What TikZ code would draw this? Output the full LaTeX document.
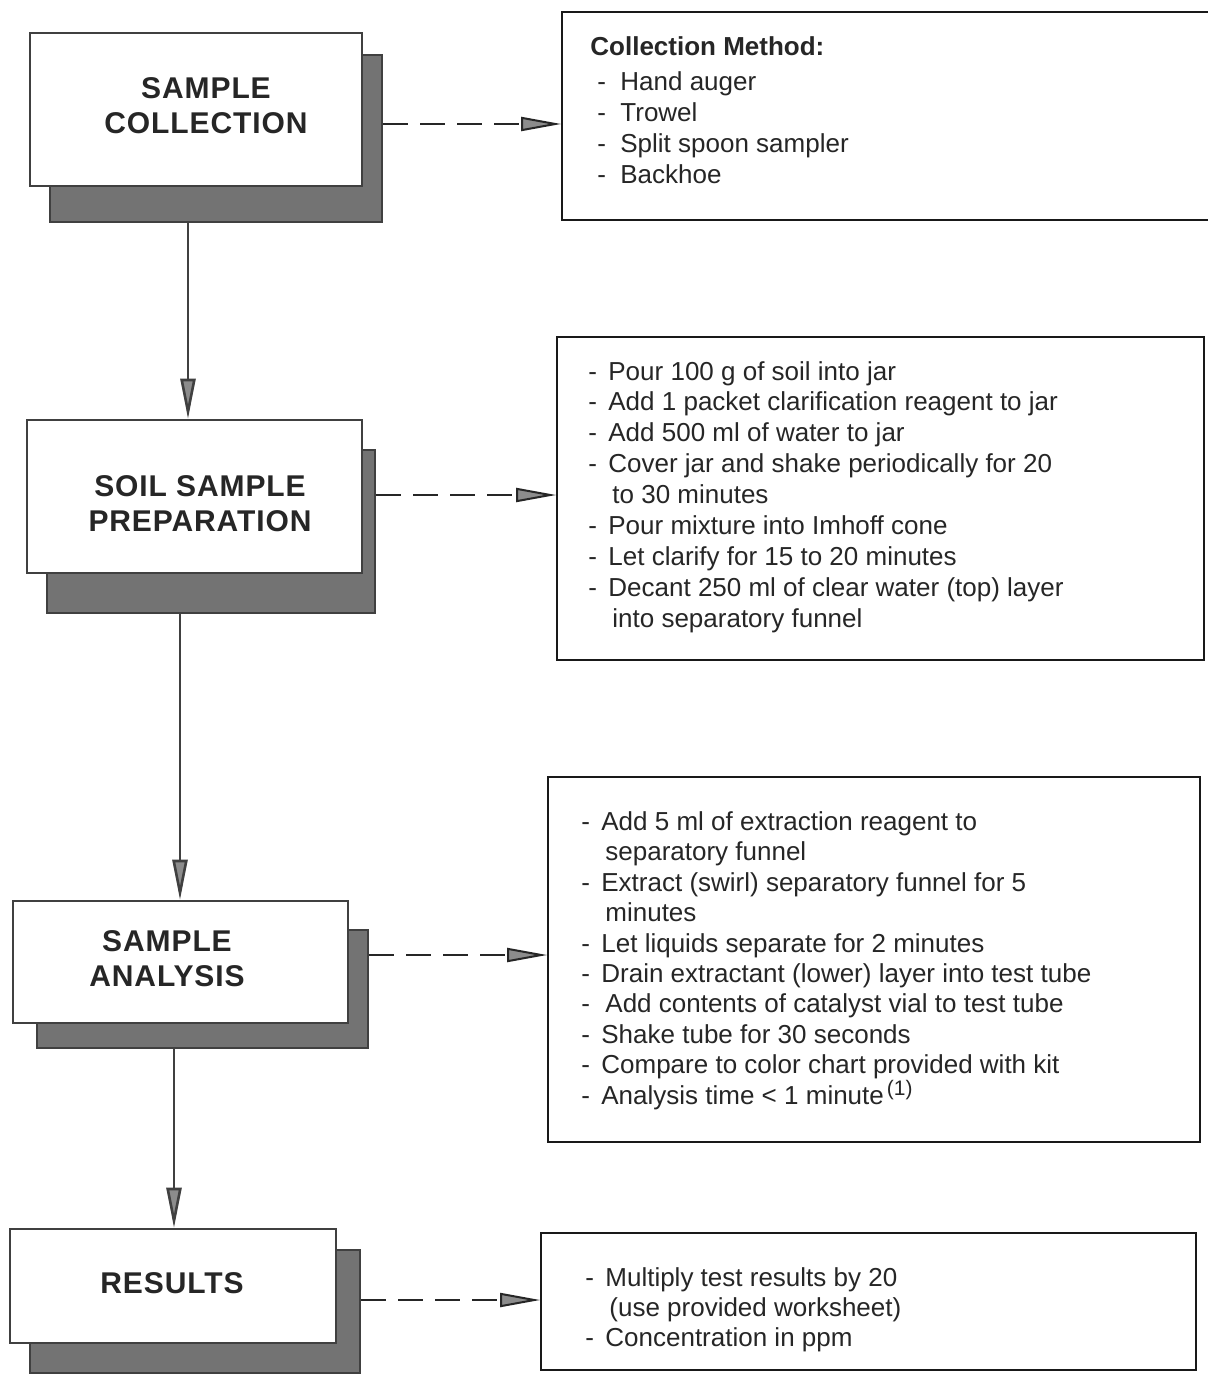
\documentclass[tikz,border=0pt]{standalone}
\usepackage{fontspec}
\setmainfont{Liberation Sans}
\usetikzlibrary{arrows.meta,fit}
\newcommand\itm{\makebox[10pt][l]{-}}
\newcommand\cnt{\hspace*{12pt}}
\begin{document}
\begin{tikzpicture}[x=0.5pt,y=-0.5pt,
  shadowbox/.style={draw=black!75, line width=1.3pt, fill=black!55, inner sep=0pt},
  mainbox/.style={draw=black!75, line width=1.3pt, fill=white, inner sep=0pt},
  infobox/.style={draw=black!90, line width=0.9pt, inner sep=0pt},
  title/.style={font=\fontsize{15}{17.5}\selectfont\bfseries\addfontfeature{LetterSpace=3}, align=center, text=black!85, inner sep=0pt},
  info/.style={anchor=base west, inner sep=0pt, text=black!85},
  flow/.style={draw=black!75, line width=1.3pt, -{Triangle[length=20pt,width=7.5pt,fill=black!45]}},
  ref/.style={draw=black!85, line width=1pt, dash pattern=on 12.5pt off 6pt, -{Triangle[length=20pt,width=7pt,fill=black!45]}}
]
\useasboundingbox (0,0) rectangle (1207,1374);
\fill[white] (0,0) rectangle (1207,1374);

% left boxes: shadows then main boxes
\node[shadowbox, fit={(50,55)(382,222)}] (s1) {};
\node[mainbox, fit={(30,33)(362,186)}] (b1) {};
\node[shadowbox, fit={(47,450)(375,613)}] (s2) {};
\node[mainbox, fit={(27,420)(362,573)}] (b2) {};
\node[shadowbox, fit={(37,930)(368,1048)}] (s3) {};
\node[mainbox, fit={(13,901)(348,1023)}] (b3) {};
\node[shadowbox, fit={(30,1250)(360,1373)}] (s4) {};
\node[mainbox, fit={(10,1229)(336,1343)}] (b4) {};

\node[title] (t1) at (206,106) {SAMPLE\\COLLECTION};
\node[title] (t2) at (200,504) {SOIL SAMPLE\\PREPARATION};
\node[title] (t3) at (167,958.5) {SAMPLE\\ANALYSIS};
\node[title] (t4) at (172,1283) {RESULTS};

% right boxes
\node[infobox, fit={(562,12)(1215,220)}] (r1) {};
\node[infobox, fit={(557,337)(1204,660)}] (r2) {};
\node[infobox, fit={(548,777)(1200,1142)}] (r3) {};
\node[infobox, fit={(541,1233)(1196,1370)}] (r4) {};

\node[info, font=\fontsize{13}{15.5}\selectfont] (i1) at (590,56) {\begin{tabular}[t]{@{}l@{}}
\textbf{Collection Method:}\\[2pt]
\hspace*{3.5pt}\makebox[11.5pt][l]{-}Hand auger\\
\hspace*{3.5pt}\makebox[11.5pt][l]{-}Trowel\\
\hspace*{3.5pt}\makebox[11.5pt][l]{-}Split spoon sampler\\
\hspace*{3.5pt}\makebox[11.5pt][l]{-}Backhoe
\end{tabular}};

\node[info, font=\fontsize{13}{15.45}\selectfont] (i2) at (588,380) {\begin{tabular}[t]{@{}l@{}}
\itm Pour 100 g of soil into jar\\
\itm Add 1 packet clarification reagent to jar\\
\itm Add 500 ml of water to jar\\
\itm Cover jar and shake periodically for 20\\
\cnt to 30 minutes\\
\itm Pour mixture into Imhoff cone\\
\itm Let clarify for 15 to 20 minutes\\
\itm Decant 250 ml of clear water (top) layer\\
\cnt into separatory funnel
\end{tabular}};

\node[info, font=\fontsize{13}{15.2}\selectfont] (i3) at (581,830.5) {\begin{tabular}[t]{@{}l@{}}
\itm Add 5 ml of extraction reagent to\\
\cnt separatory funnel\\
\itm Extract (swirl) separatory funnel for 5\\
\cnt minutes\\
\itm Let liquids separate for 2 minutes\\
\itm Drain extractant (lower) layer into test tube\\
\itm \hspace*{2pt}Add contents of catalyst vial to test tube\\
\itm Shake tube for 30 seconds\\
\itm Compare to color chart provided with kit\\
\itm Analysis time < 1 minute\hspace{1.5pt}\smash{\raisebox{4.5pt}{\fontsize{10.5}{10.5}\selectfont(1)}}
\end{tabular}};

\node[info, font=\fontsize{13}{15}\selectfont] (i4) at (585,1286) {\begin{tabular}[t]{@{}l@{}}
\itm Multiply test results by 20\\
\cnt (use provided worksheet)\\
\itm Concentration in ppm
\end{tabular}};

% flow connectors
\coordinate (v1) at (188,0);
\coordinate (v2) at (180,0);
\coordinate (v3) at (174,0);
\draw[flow] (s1.south -| v1) -- (b2.north -| v1);
\draw[flow] (s2.south -| v2) -- (b3.north -| v2);
\draw[flow] (s3.south -| v3) -- (b4.north -| v3);

% dashed reference connectors
\coordinate (h1) at (0,124);
\coordinate (h2) at (0,495);
\coordinate (h3) at (0,955);
\coordinate (h4) at (0,1300);
\draw[ref] (s1.east |- h1) -- (r1.west |- h1);
\draw[ref] (s2.east |- h2) -- (r2.west |- h2);
\draw[ref] (s3.east |- h3) -- (r3.west |- h3);
\draw[ref] (s4.east |- h4) -- (r4.west |- h4);
\end{tikzpicture}
\end{document}
